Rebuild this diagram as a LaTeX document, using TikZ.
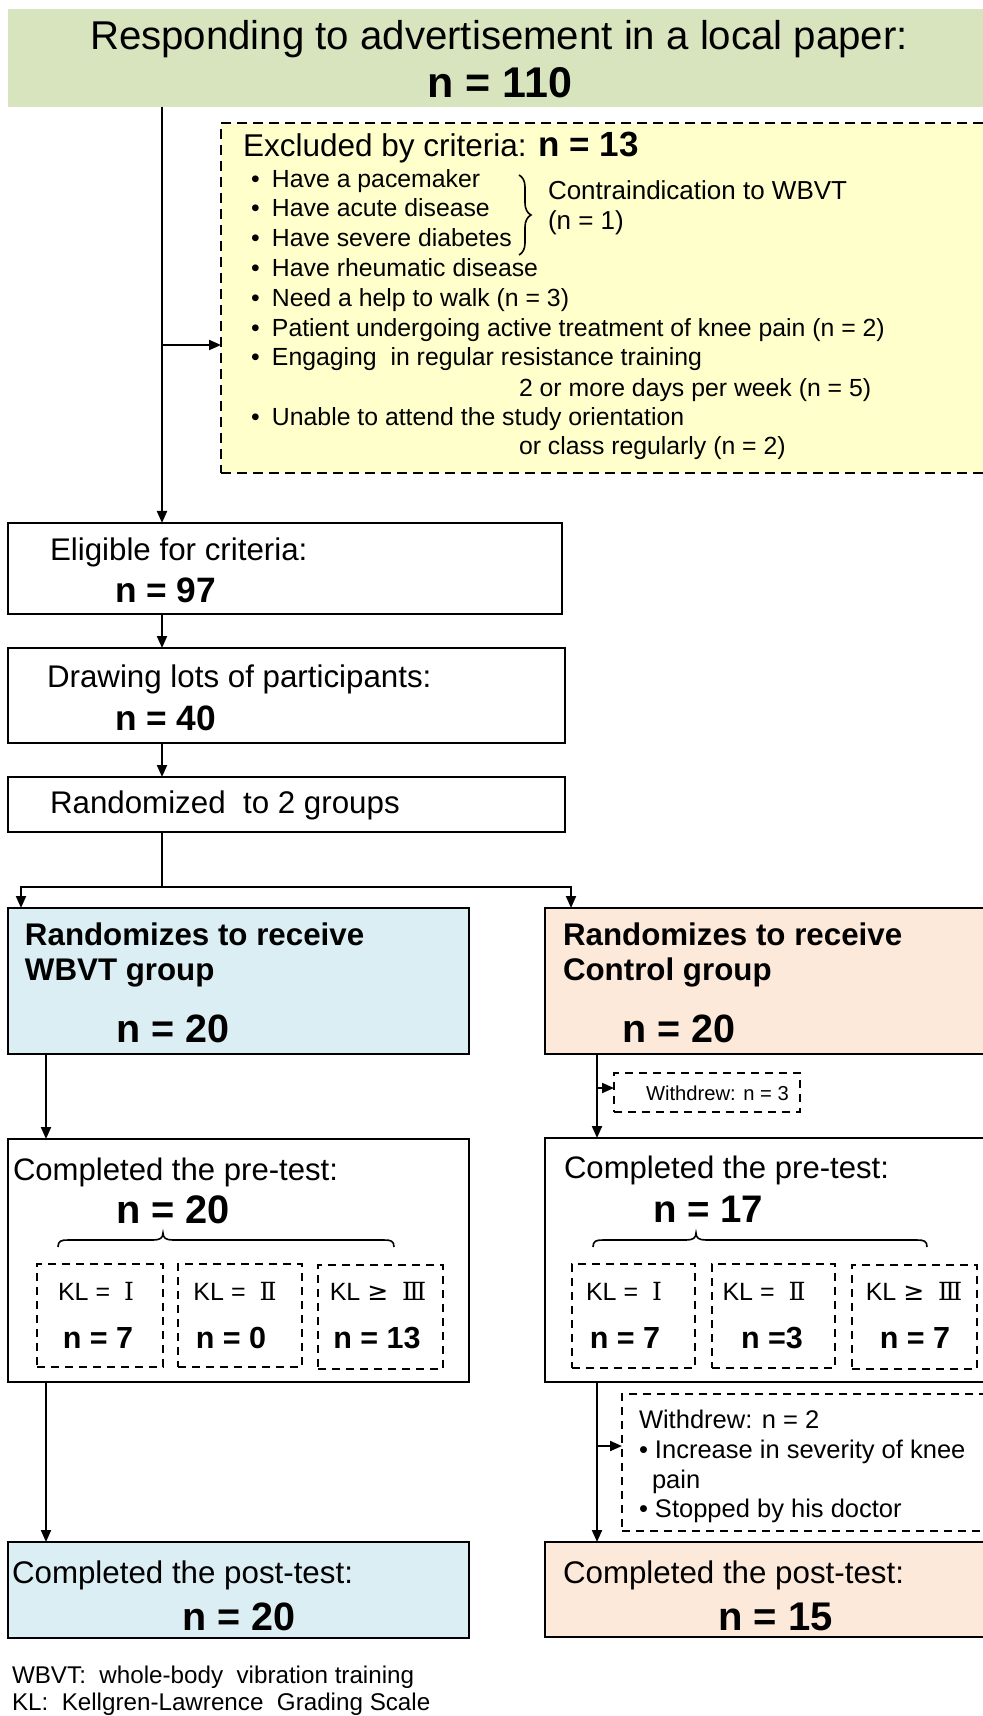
\documentclass[tikz,border=0pt]{standalone}
\usepackage{fontspec}
\setmainfont{Liberation Sans}
\newfontfamily\rom{DejaVu Serif}
\newfontfamily\sym{DejaVu Sans}
\usetikzlibrary{arrows.meta,fit,decorations.pathreplacing}
\definecolor{cgreen}{HTML}{D7E4BD}
\definecolor{cyellow}{HTML}{FFFFCC}
\definecolor{cblue}{HTML}{DAEEF3}
\definecolor{corange}{HTML}{FDE9D9}
\newcommand{\fsz}[1]{\fontsize{#1pt}{#1pt}\selectfont}
\newcommand{\bul}{\makebox[10.5pt][l]{•}}
\begin{document}
\begin{tikzpicture}[x=0.5pt,y=-0.5pt,
  box/.style={draw=black, line width=1pt, inner sep=0pt, outer sep=0pt},
  dbox/.style={draw=black, line width=0.75pt, dash pattern=on 4pt off 3pt, inner sep=0pt, outer sep=0pt},
  arr/.style={line width=1pt, -{Triangle[length=6pt,width=5pt]}},
  ln/.style={line width=1pt},
  txt/.style={anchor=base west, inner sep=0pt, outer sep=0pt},
  ctxt/.style={anchor=base, inner sep=0pt, outer sep=0pt},
  brc/.style={line width=0.8pt}
]
\useasboundingbox (0,0) rectangle (983,1716);
% column coordinates
\coordinate (xa) at (162,0);
\coordinate (xl) at (46,0);
\coordinate (xr) at (597,0);
\coordinate (xL) at (21,0);
\coordinate (xR) at (571,0);
\coordinate (ya) at (0,345);
\coordinate (ysplit) at (0,887);
\coordinate (yw3) at (0,1088);
\coordinate (yw2) at (0,1446);

% boxes
\node[box, draw=none, fill=cgreen, fit={(8,9) (995,107)}] (title) {};
\node[dbox, line width=1pt, dash pattern=on 5pt off 3pt, fill=cyellow, fit={(221,123) (995,473)}] (excl) {};
\node[box, fit={(8,523) (562,614)}] (elig) {};
\node[box, fit={(8,648) (565,743)}] (lots) {};
\node[box, fit={(8,777) (565,832)}] (rand) {};
\node[box, fill=cblue, fit={(8,908) (469,1054)}] (wbvt) {};
\node[box, fill=corange, fit={(545,908) (995,1054)}] (ctrl) {};
\node[dbox, fit={(614,1073) (800,1112)}] (w3) {};
\node[box, fit={(8,1139) (469,1382)}] (preL) {};
\node[box, fit={(545,1138) (995,1382)}] (preR) {};
\node[dbox, fit={(622,1394) (995,1531)}] (w2) {};
\node[box, fill=cblue, fit={(8,1542) (469,1638)}] (postL) {};
\node[box, fill=corange, fit={(545,1542) (995,1637)}] (postR) {};
% KL boxes
\node[dbox, fit={(37,1264) (163,1367)}] (kl1) {};
\node[dbox, fit={(178,1264) (302,1367)}] (kl2) {};
\node[dbox, fit={(318,1265) (443,1369)}] (kl3) {};
\node[dbox, fit={(572,1264) (695,1368)}] (kr1) {};
\node[dbox, fit={(712,1264) (835,1368)}] (kr2) {};
\node[dbox, fit={(852,1265) (977,1369)}] (kr3) {};

% connectors
\draw[arr] (xa |- title.south) -- (xa |- elig.north);
\draw[arr] (xa |- ya) -- (excl.west |- ya);
\draw[arr] (xa |- elig.south) -- (xa |- lots.north);
\draw[arr] (xa |- lots.south) -- (xa |- rand.north);
\draw[ln] (xa |- rand.south) -- (xa |- ysplit);
\draw[arr] (xa |- ysplit) -| (xL |- wbvt.north);
\draw[arr] (xa |- ysplit) -| (xR |- ctrl.north);
\draw[arr] (xl |- wbvt.south) -- (xl |- preL.north);
\draw[arr] (xr |- ctrl.south) -- (xr |- preR.north);
\draw[arr] (xr |- yw3) -- (w3.west |- yw3);
\draw[arr] (xl |- preL.south) -- (xl |- postL.north);
\draw[arr] (xr |- preR.south) -- (xr |- postR.north);
\draw[arr] (xr |- yw2) -- (w2.west |- yw2);

% title text
\node[ctxt, font=\fsz{20.1}] (t0) at (499,50) {Responding to advertisement in a local paper:};
\node[ctxt, font=\fsz{21.5}\bfseries] (t0n) at (500,98) {n = 110};

% excluded text
\node[txt, font=\fsz{15.75}] (ex0) at (243,157) {Excluded by criteria: {\fsz{17.5}\bfseries n = 13}};
\begin{scope}[every node/.style={txt, font=\fsz{12.4}}]
\node (ex1) at (251,188) {\bul Have a pacemaker};
\node (ex2) at (251,217) {\bul Have acute disease};
\node (ex3) at (251,247) {\bul Have severe diabetes};
\node (ex4) at (251,277) {\bul Have rheumatic disease};
\node (ex5) at (251,307) {\bul Need a help to walk (n = 3)};
\node (ex6) at (251,337) {\bul Patient undergoing active treatment of knee pain (n = 2)};
\node (ex7) at (251,366) {\bul Engaging\ \ in regular resistance training};
\node (ex8) at (519,397) {2 or more days per week (n = 5)};
\node (ex9) at (251,426) {\bul Unable to attend the study orientation};
\node (ex10) at (519,455) {or class regularly (n = 2)};
\end{scope}
\draw[brc, decorate, decoration={brace, amplitude=6pt}] (519,175) -- (519,255);
\node[txt, font=\fsz{13}] (ci1) at (548,200) {Contraindication to WBVT};
\node[txt, font=\fsz{13}] (ci2) at (548,230) {(n = 1)};

% eligible, lots, randomized
\node[txt, font=\fsz{15.65}] (el1) at (50,560) {Eligible for criteria:};
\node[txt, font=\fsz{17.65}\bfseries] (el2) at (115,602) {n = 97};
\node[txt, font=\fsz{15.65}] (lo1) at (47,687) {Drawing lots of participants:};
\node[txt, font=\fsz{17.65}\bfseries] (lo2) at (115,730) {n = 40};
\node[txt, font=\fsz{15.65}] (ra1) at (50,813) {Randomized\ \ to 2 groups};

% group boxes
\node[txt, font=\fsz{15.65}\bfseries] (wb1) at (25,945) {Randomizes to receive};
\node[txt, font=\fsz{15.65}\bfseries] (wb2) at (25,980) {WBVT group};
\node[txt, font=\fsz{19.75}\bfseries] (wb3) at (116,1042) {n = 20};
\node[txt, font=\fsz{15.65}\bfseries] (co1) at (563,945) {Randomizes to receive};
\node[txt, font=\fsz{15.65}\bfseries] (co2) at (563,980) {Control group};
\node[txt, font=\fsz{19.75}\bfseries] (co3) at (622,1042) {n = 20};
\node[txt, font=\fsz{10.1}] (w3t) at (646,1100) {Withdrew: n = 3};

% pre-test
\node[txt, font=\fsz{15.55}] (pl1) at (13,1180) {Completed the pre-test:};
\node[txt, font=\fsz{19.9}\bfseries] (pl2) at (116,1223) {n = 20};
\node[txt, font=\fsz{15.55}] (pr1) at (564,1178) {Completed the pre-test:};
\node[txt, font=\fsz{19.2}\bfseries] (pr2) at (653,1222) {n = 17};
\draw[brc] (58,1247) .. controls (58,1241) and (61,1240) .. (68,1240) -- (153,1240) .. controls (160,1240) and (163,1238) .. (163,1233) .. controls (163,1238) and (166,1240) .. (173,1240) -- (384,1240) .. controls (391,1240) and (394,1241) .. (394,1247);
\draw[brc] (593,1247) .. controls (593,1241) and (596,1240) .. (603,1240) -- (686,1240) .. controls (693,1240) and (696,1238) .. (696,1233) .. controls (696,1238) and (699,1240) .. (706,1240) -- (917,1240) .. controls (924,1240) and (927,1241) .. (927,1247);

% KL texts
\begin{scope}[every node/.style={ctxt, font=\fsz{12.5}}]
\node (kl1a) at (96,1300) {KL = \ {\rom Ⅰ}};
\node (kl2a) at (235,1300) {KL = \ {\rom Ⅱ}};
\node (kl3a) at (378,1300) {KL {\sym ≥} \ {\rom Ⅲ}};
\node (kr1a) at (624,1300) {KL = \ {\rom Ⅰ}};
\node (kr2a) at (764,1300) {KL = \ {\rom Ⅱ}};
\node (kr3a) at (914,1300) {KL {\sym ≥} \ {\rom Ⅲ}};
\end{scope}
\begin{scope}[every node/.style={ctxt, font=\fsz{15.25}\bfseries}]
\node (kl1b) at (98,1348) {n = 7};
\node (kl2b) at (231,1348) {n = 0};
\node (kl3b) at (377,1348) {n = 13};
\node (kr1b) at (625,1348) {n = 7};
\node (kr2b) at (772,1348) {n =3};
\node (kr3b) at (915,1348) {n = 7};
\end{scope}

% withdrew 2
\begin{scope}[every node/.style={txt, font=\fsz{12.75}}]
\node (w2a) at (639,1428) {Withdrew: n = 2};
\node (w2b) at (639,1458) {• Increase in severity of knee};
\node (w2c) at (652,1488) {pain};
\node (w2d) at (639,1517) {• Stopped by his doctor};
\end{scope}

% post-test
\node[txt, font=\fsz{15.65}] (ql1) at (12,1583) {Completed the post-test:};
\node[txt, font=\fsz{19.75}\bfseries] (ql2) at (182,1630) {n = 20};
\node[txt, font=\fsz{15.65}] (qr1) at (563,1583) {Completed the post-test:};
\node[txt, font=\fsz{20}\bfseries] (qr2) at (718,1630) {n = 15};

% footnotes
\node[txt, font=\fsz{12.1}] (fn1) at (12,1683) {WBVT:\ \ whole-body\ \ vibration training};
\node[txt, font=\fsz{12.1}] (fn2) at (12,1710) {KL:\ \ Kellgren-Lawrence\ \ Grading Scale};
\end{tikzpicture}
\end{document}
